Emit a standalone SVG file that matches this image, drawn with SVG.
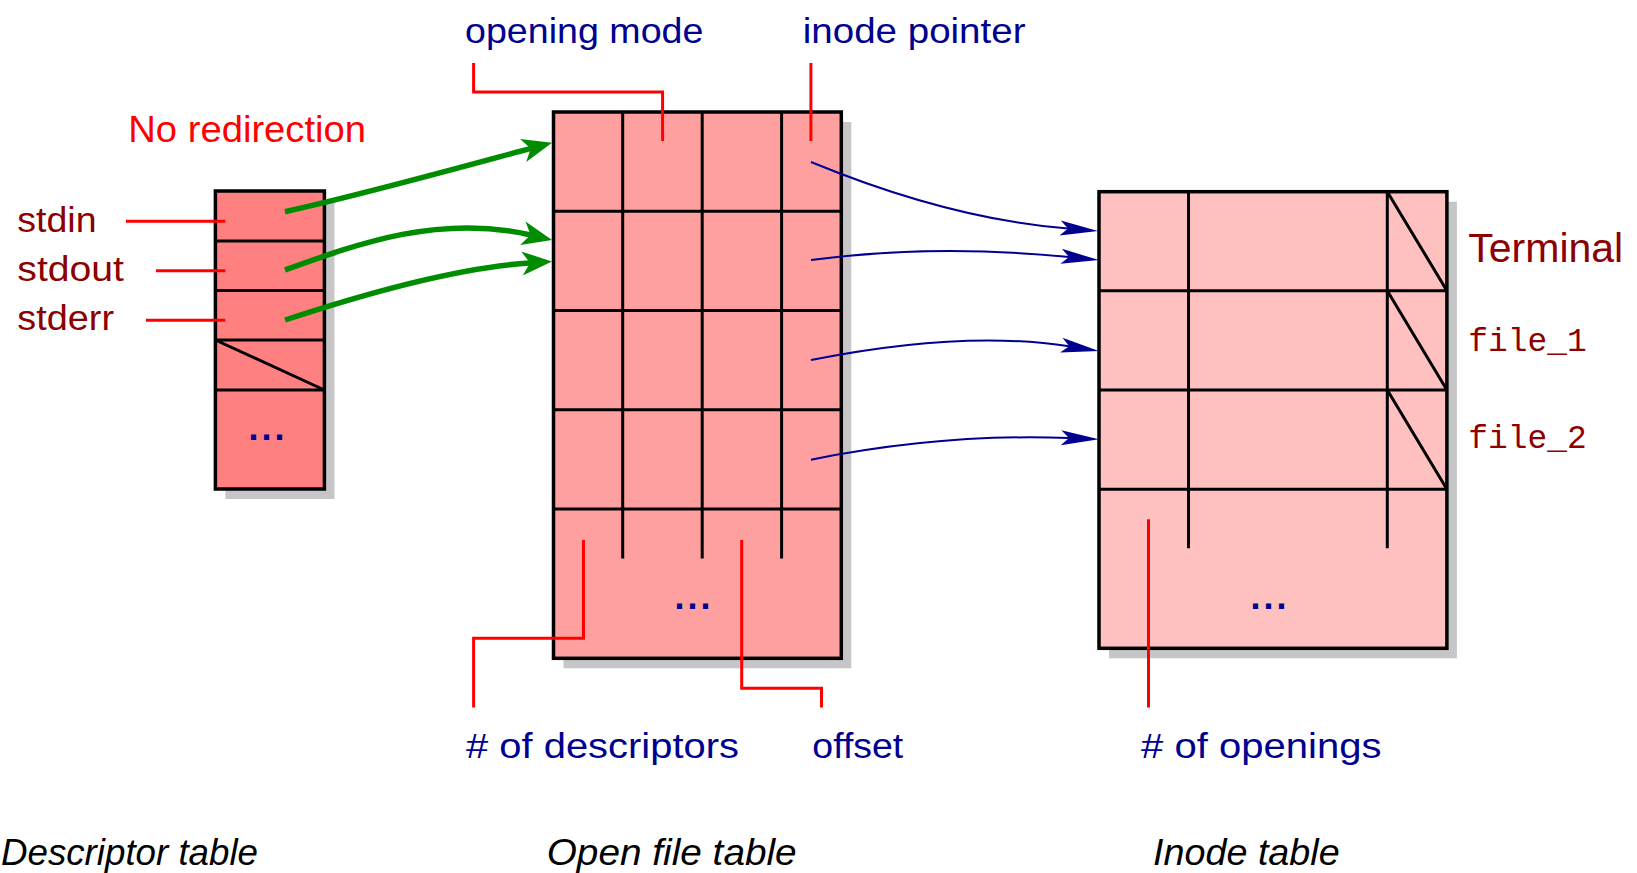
<svg xmlns="http://www.w3.org/2000/svg" width="1637" height="873" viewBox="0 0 1637 873">
  <style>
    .shadow { fill: #c6c6c9; }
    .frame { stroke: #000; stroke-width: 3.5; }
    .cell { fill: none; stroke: #000; stroke-width: 3; }
    .lead { fill: none; stroke: #ff0000; stroke-width: 3; }
    .txt { font-family: "Liberation Sans", Arial, sans-serif; font-size: 35px; fill: #000090; }
    .dark { fill: #8c0000; }
    .title { font-size: 37px; fill: #ff0000; }
    .term { font-size: 41px; }
    .mono { font-family: "Liberation Mono", "Courier New", monospace; font-size: 33px; fill: #8c0000; }
    .caption { font-style: italic; font-size: 37px; fill: #000; }
    .dots { font-family: "Liberation Sans", Arial, sans-serif; font-size: 36px; font-weight: bold; fill: #000090; letter-spacing: 3px; }
    .green { fill: none; stroke: #008c00; stroke-width: 5.5; marker-end: url(#head-green); }
    .blue { fill: none; stroke: #000090; stroke-width: 2; marker-end: url(#head-blue); }
  </style>
  <defs>
    <marker id="head-green" markerUnits="userSpaceOnUse" orient="auto" viewBox="-10 -15 40 30" markerWidth="40" markerHeight="30" refX="0" refY="0">
      <path d="M22,0 L-8,-12 L0,0 L-8,12 Z" fill="#008c00"/>
    </marker>
    <marker id="head-blue" markerUnits="userSpaceOnUse" orient="auto" viewBox="-10 -10 45 20" markerWidth="45" markerHeight="20" refX="0" refY="0">
      <path d="M30,0 L-8,-7.5 L0,0 L-8,7.5 Z" fill="#000090"/>
    </marker>
  </defs>

  <rect width="1637" height="873" fill="#fff"/>

  <!-- descriptor table -->
  <g id="descriptor-table">
    <rect class="shadow" x="225.4" y="201" width="109" height="298"/>
    <rect class="frame" x="215.4" y="191" width="109" height="298" fill="#ff8080"/>
    <path class="cell" d="M215.4,241 H324.4 M215.4,290.5 H324.4 M215.4,340 H324.4 M215.4,390 H324.4 M215.4,340 L324.4,390"/>
    <text class="dots" x="268" y="440" text-anchor="middle">...</text>
  </g>

  <!-- open file table -->
  <g id="open-file-table">
    <rect class="shadow" x="563.5" y="122" width="287.8" height="546.3"/>
    <rect class="frame" x="553.5" y="112" width="287.8" height="546.3" fill="#ffa0a0"/>
    <path class="cell" d="M553.5,211.3 H841.3 M553.5,310.5 H841.3 M553.5,409.8 H841.3 M553.5,509 H841.3
                          M622.7,112 V558.5 M702.2,112 V558.5 M781.6,112 V558.5"/>
    <text class="dots" x="694" y="609" text-anchor="middle">...</text>
  </g>

  <!-- inode table -->
  <g id="inode-table">
    <rect class="shadow" x="1109" y="201.7" width="347.9" height="456.6"/>
    <rect class="frame" x="1099" y="191.7" width="347.9" height="456.6" fill="#ffc0c0"/>
    <path class="cell" d="M1099,290.7 H1446.9 M1099,390 H1446.9 M1099,489.3 H1446.9
                          M1188.5,191.7 V548.3 M1387.3,191.7 V548.3
                          M1387.3,191.7 L1446.9,290.7 M1387.3,290.7 L1446.9,390 M1387.3,390 L1446.9,489.3"/>
    <text class="dots" x="1270" y="609" text-anchor="middle">...</text>
  </g>

  <!-- field labels and their leader lines -->
  <g id="field-labels">
    <path class="lead" d="M473.6,63 V92 H662.6 V141"/>
    <path class="lead" d="M810.9,63 V141"/>
    <path class="lead" d="M583.5,540 V638.3 H473.6 V707.5"/>
    <path class="lead" d="M741.7,540 V688.3 H821.5 V707.5"/>
    <path class="lead" d="M1148.5,519.3 V707.5"/>
    <text class="txt" x="465" y="42.7" textLength="238.4" lengthAdjust="spacingAndGlyphs">opening mode</text>
    <text class="txt" x="802.8" y="42.7" textLength="222.7" lengthAdjust="spacingAndGlyphs">inode pointer</text>
    <text class="txt" x="466" y="758.3" textLength="273" lengthAdjust="spacingAndGlyphs"># of descriptors</text>
    <text class="txt" x="812.3" y="758.3" textLength="91" lengthAdjust="spacingAndGlyphs">offset</text>
    <text class="txt" x="1141.1" y="758.3" textLength="240.4" lengthAdjust="spacingAndGlyphs"># of openings</text>
  </g>

  <!-- standard streams -->
  <g id="streams">
    <text class="txt title" x="128.3" y="141.7" textLength="237.7" lengthAdjust="spacingAndGlyphs">No redirection</text>
    <path class="lead" d="M126,221.3 H225.3 M156,270.7 H225.3 M146,320.3 H225.3"/>
    <text class="txt dark" x="17.3" y="231.7" textLength="79.3" lengthAdjust="spacingAndGlyphs">stdin</text>
    <text class="txt dark" x="17.3" y="280.7" textLength="106.7" lengthAdjust="spacingAndGlyphs">stdout</text>
    <text class="txt dark" x="17.3" y="330" textLength="96.7" lengthAdjust="spacingAndGlyphs">stderr</text>
  </g>

  <!-- files behind the inodes -->
  <g id="files">
    <text class="txt dark term" x="1468.3" y="261.7">Terminal</text>
    <text class="mono" x="1468.3" y="350.7" textLength="118.4" lengthAdjust="spacingAndGlyphs">file_1</text>
    <text class="mono" x="1468.3" y="448.3" textLength="118.4" lengthAdjust="spacingAndGlyphs">file_2</text>
  </g>

  <!-- connectors -->
  <g id="connectors">
    <path class="green" d="M285,211.7 C360,195.2 463.2,166.6 530.8,148.4"/>
    <path class="green" d="M285,270 C360,243 440,214 530.6,235"/>
    <path class="green" d="M285,320 C350,298.5 450,268 530,262.9"/>
    <path class="blue" d="M811,162 C891,195 978.4,221.4 1068.1,228.6"/>
    <path class="blue" d="M811,260 C901,248.3 989.5,249.1 1069.1,257.1"/>
    <path class="blue" d="M811,360 C901,342 989.8,334 1069.2,346.3"/>
    <path class="blue" d="M811,459.7 C901,441.7 989.1,434.9 1069,438.1"/>
  </g>

  <!-- table captions -->
  <g id="captions">
    <text class="txt caption" x="1" y="865" textLength="257" lengthAdjust="spacingAndGlyphs">Descriptor table</text>
    <text class="txt caption" x="546.7" y="865" textLength="250" lengthAdjust="spacingAndGlyphs">Open file table</text>
    <text class="txt caption" x="1153" y="865" textLength="186.7" lengthAdjust="spacingAndGlyphs">Inode table</text>
  </g>
</svg>
